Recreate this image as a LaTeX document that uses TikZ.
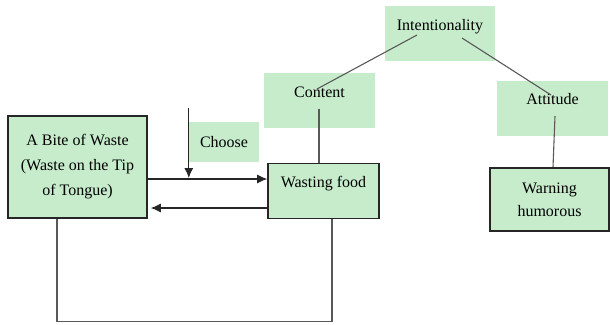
\documentclass[tikz,border=0pt]{standalone}
\usepackage{fontspec}
\setmainfont{Liberation Serif}
\usepackage{tikz}
\usetikzlibrary{arrows.meta, calc, positioning}
\definecolor{boxgreen}{RGB}{198,236,204}
\tikzstyle{arrow}  = [line width=1.1pt, draw=black!85, ->, >={Latex[length=10pt,width=9pt]}]
\tikzstyle{link}   = [line width=1.1pt, draw=black!65]
\tikzstyle{plain}  = [fill=boxgreen, inner sep=0pt, align=center, font=\fontsize{16}{25}\selectfont]
\tikzstyle{framed} = [plain, draw=black!85, line width=1.6pt]
\tikzstyle{oneline} = [text height=24pt, text depth=31pt]

\begin{document}
\begin{tikzpicture}[x=1pt, y=-1pt]
\useasboundingbox (0,0) rectangle (610,324);

\node[framed, minimum width=139pt, minimum height=102pt] (bite) at (77.5,167) {A Bite of Waste\\(Waste on the Tip\\of Tongue)};
\node[plain, minimum width=70pt, minimum height=40pt] (choose) at (224,142) {Choose};

\node[framed, oneline, minimum width=111pt] (waste) at (323.5,191) {Wasting food};
\node[plain, oneline, minimum width=111pt] (content) at (319.5,100.5) {Content};

\node[plain, oneline, minimum width=110pt] (intent) at (440,33.5) {Intentionality};

\node[plain, oneline, minimum width=111pt] (attitude) at (552.5,108) {Attitude};
\node[framed, minimum width=119pt, minimum height=63pt, font=\fontsize{16}{23}\selectfont] (warning) at (549.5,199.5) {Warning\\humorous};

\draw[link] ($(intent.center)+(-23,1.5)$) -- ($(content.center)+(-2.5,-11.5)$);
\draw[link] ($(intent.center)+(22,4.5)$) -- ($(attitude.center)+(-1.5,-13)$);
\draw[link] ($(content.center)+(-0.5,8.5)$) coordinate (c1) -- (c1 |- waste.north);
\draw[link] ($(attitude.center)+(2.5,8)$) -- ($(warning.north)+(3.5,0)$);

\coordinate (top) at ($(choose.north west)+(0,-14)$);
\draw[arrow] ($(bite.east)+(0,12)$) coordinate (a1) -- (a1 -| waste.west);
\draw[arrow] (top) -- ($(top |- a1)+(0,-1)$);
\draw[arrow, shorten >=3pt] ($(waste.west)+(0,17)$) coordinate (a2) -- (a2 -| bite.east);

\draw[link] ($(bite.south)+(-20.5,0)$) -- ++(0,103) -| ($(waste.south)+(8.5,0)$);

\end{tikzpicture}
\end{document}
